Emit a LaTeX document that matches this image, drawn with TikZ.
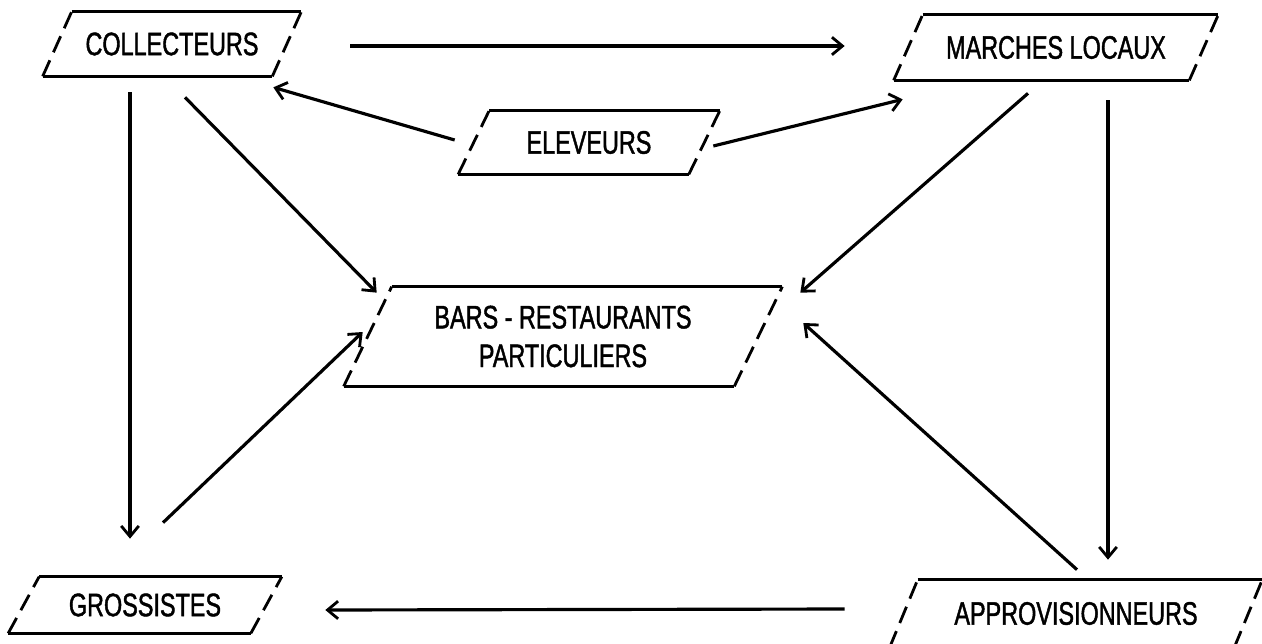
\documentclass[tikz,border=0pt]{standalone}
\usepackage{fontspec}
\setmainfont{Liberation Sans}[FakeStretch=0.72, FakeBold=1.3]
\usetikzlibrary{calc,arrows.meta}

% edges of a slanted box round node #1, top shifted right and bottom left by #2
\newcommand{\slantframe}[2]{%
  \draw[frame] ($(#1.north west)+(#2,0)$) -- ($(#1.north east)+(#2,0)$);
  \draw[frame] ($(#1.south west)+(-#2,0)$) -- ($(#1.south east)+(-#2,0)$);
  \draw[frame, sidedash] ($(#1.south west)+(-#2,0)$) -- ($(#1.north west)+(#2,0)$);
  \draw[frame, sidedash] ($(#1.south east)+(-#2,0)$) -- ($(#1.north east)+(#2,0)$);
}

\tikzset{
  box/.style={inner sep=0pt, align=center, font=\fontsize{18.5}{22}\selectfont},
  frame/.style={line width=1.6pt},
  sidedash/.style={dash pattern=on 10pt off 5pt},
  arr/.style={line width=1.8pt, -{Straight Barb[length=6pt,width=10pt,line width=1.6pt]}}
}

\begin{document}
\begin{tikzpicture}[x=0.02cm, y=-0.02cm]
  \useasboundingbox (0,0) rectangle (1262,643);

  % Draw the boxes
  \node[box, minimum width=4.58cm, minimum height=1.28cm] (coll) at (172,44) {COLLECTEURS};
  \node[box, minimum width=5.9cm, minimum height=1.3cm] (marches) at (1056,47.5) {MARCHES LOCAUX};
  \node[box, minimum width=4.6cm, minimum height=1.26cm] (elev) at (589,142.5) {ELEVEURS};
  \node[box, minimum width=7.8cm, minimum height=1.98cm] (bars) at (563,336.5) {BARS - RESTAURANTS\\PARTICULIERS};
  \node[box, minimum width=4.84cm, minimum height=1.12cm] (gross) at (145,605) {GROSSISTES};
  \node[box, minimum width=6.88cm, minimum height=1.34cm] (appro) at (1076,613.5) {APPROVISIONNEURS};

  \slantframe{coll}{14.5}
  \slantframe{marches}{14.5}
  \slantframe{elev}{15.5}
  \slantframe{bars}{24}
  \slantframe{gross}{15.5}
  \slantframe{appro}{14}

  % Draw the flows between the boxes
  \draw[arr] ($(coll.east)+(63.5,2)$) -- ($(marches.west)+(-63.5,-1.5)$);
  \draw[arr] ($(elev.west)+(-19,-2.5)$) -- ($(coll.south east)+(-13.5,11)$);
  \draw[arr] ($(elev.east)+(9,3.5)$) -- ($(marches.south west)+(-5.5,19)$);
  \draw[arr] ($(coll.south)+(13,21)$) -- ($(bars.north west)+(9,6)$);
  \draw[arr] ($(coll.south)+(-42,16)$) -- ($(gross.north)+(-15,-38)$);
  \draw[arr] ($(gross.north)+(18,-54)$) -- ($(bars.west)+(-5,-4.5)$);
  \draw[arr] ($(marches.south)+(-28,13)$) -- ($(bars.north east)+(42,6)$);
  \draw[arr] ($(marches.south)+(52,20)$) -- ($(appro.north)+(32,-20)$);
  \draw[arr] ($(appro.north)+(1,-10)$) -- ($(bars.east)+(45,-13.5)$);
  \draw[arr] ($(appro.west)+(-59,-4.5)$) -- ($(gross.east)+(59,5)$);
\end{tikzpicture}
\end{document}
